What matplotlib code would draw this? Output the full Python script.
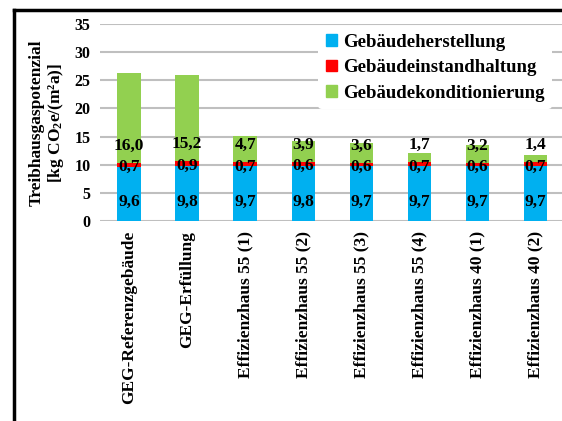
import matplotlib
matplotlib.use("Agg")
import matplotlib.pyplot as plt
from matplotlib.lines import Line2D
from matplotlib.patches import Patch

categories = ["GEG-Referenzgebäude", "GEG-Erfüllung", "Effizienzhaus 55 (1)",
              "Effizienzhaus 55 (2)", "Effizienzhaus 55 (3)", "Effizienzhaus 55 (4)",
              "Effizienzhaus 40 (1)", "Effizienzhaus 40 (2)"]
herstellung = [9.6, 9.8, 9.7, 9.8, 9.7, 9.7, 9.7, 9.7]
instandhaltung = [0.7, 0.9, 0.7, 0.6, 0.6, 0.7, 0.6, 0.7]
konditionierung = [16.0, 15.2, 4.7, 3.9, 3.6, 1.7, 3.2, 1.4]
series_names = ["Gebäudeherstellung", "Gebäudeinstandhaltung", "Gebäudekonditionierung"]
colors = ["#00B0F0", "#FF0000", "#92D050"]
yticks = [0, 5, 10, 15, 20, 25, 30, 35]

plt.rcParams["font.family"] = ["Liberation Serif", "DejaVu Serif"]
plt.rcParams["font.weight"] = "bold"
plt.rcParams["mathtext.fontset"] = "custom"
plt.rcParams["mathtext.rm"] = "Liberation Serif:bold"
plt.rcParams["mathtext.bf"] = "Liberation Serif:bold"
plt.rcParams["mathtext.default"] = "bf"

fig = plt.figure(figsize=(5.62, 4.21), dpi=100)
ax = fig.add_axes([0.178, 0.475, 0.826, 0.468])

x = list(range(len(categories)))
w = 0.4
bottom2 = herstellung
bottom3 = [a + b for a, b in zip(herstellung, instandhaltung)]
ax.bar(x, herstellung, w, color=colors[0], zorder=2)
ax.bar(x, instandhaltung, w, bottom=bottom2, color=colors[1], zorder=2)
ax.bar(x, konditionierung, w, bottom=bottom3, color=colors[2], zorder=2)

fs = 12.5
for i in x:
    ax.annotate(f"{herstellung[i]:.1f}".replace(".", ","), (i, 0), xytext=(0, 14),
                textcoords="offset points", ha="center", va="center",
                fontsize=fs, fontweight="bold", zorder=3)
    ax.annotate(f"{instandhaltung[i]:.1f}".replace(".", ","),
                (i, bottom2[i] + instandhaltung[i] / 2), xytext=(0, -1.5),
                textcoords="offset points", ha="center", va="center",
                fontsize=fs, fontweight="bold", zorder=3)
    ax.annotate(f"{konditionierung[i]:.1f}".replace(".", ","), (i, bottom3[i]),
                xytext=(0, 12.5), textcoords="offset points", ha="center", va="center",
                fontsize=fs, fontweight="bold", zorder=3)

ax.set_xlim(-0.5, len(categories) - 0.5)
ax.set_ylim(0, 35)
ax.set_yticks(yticks)
ax.set_yticklabels([str(t) for t in yticks], fontsize=11.5, fontweight="bold")
ax.set_xticks(x)
ax.set_xticklabels(categories, rotation=90, fontsize=12.5, fontweight="bold")
ax.tick_params(axis="both", length=0)
ax.tick_params(axis="y", pad=7)
ax.tick_params(axis="x", pad=7)
ax.grid(axis="y", color="#BFBFBF", linewidth=1.5, zorder=0)
for s in ax.spines.values():
    s.set_visible(False)

ax.set_ylabel("Treibhausgaspotenzial\n[kg CO$_2$e/(m²a)]", fontsize=12.5,
              fontweight="bold", labelpad=6, linespacing=1.05)

handles = [Patch(color=c) for c in colors]
leg = fig.legend(handles, series_names, loc="upper left",
                 bbox_to_anchor=(0.55, 0.96), frameon=True, fontsize=13.5,
                 handlelength=0.6, handleheight=0.6, handletextpad=0.3,
                 labelspacing=0.45, borderpad=0.4)
leg.get_frame().set_edgecolor("none")
leg.get_frame().set_facecolor("white")
leg.get_frame().set_alpha(1)

# outer frame lines
fig.add_artist(Line2D([0.025, 1.0], [0.976, 0.976], color="black", linewidth=2.5,
                      transform=fig.transFigure))
fig.add_artist(Line2D([0.025, 0.025], [0.0, 0.976], color="black", linewidth=2.5,
                      transform=fig.transFigure))

fig.savefig("out.png", dpi=100)
